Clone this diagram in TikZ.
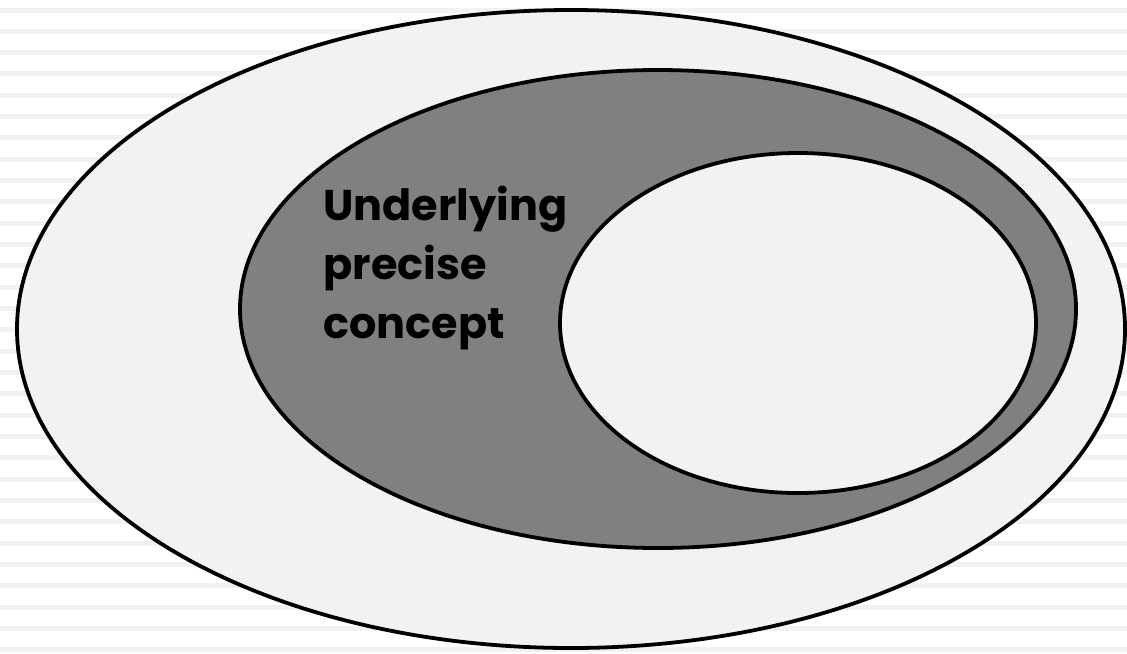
\documentclass[tikz,border=0pt]{standalone}
\usepackage{fontspec}
\newfontfamily\geofont{Poppins}
\usetikzlibrary{shapes.geometric}
\definecolor{stripegray}{HTML}{F2F2F2}
\definecolor{paleset}{HTML}{F2F2F2}
\definecolor{darkset}{HTML}{808080}
\tikzset{
  setshape/.style={ellipse, draw=black, line width=1.9pt, inner sep=0pt},
  stripe/.style={fill=stripegray, draw=none}
}
\begin{document}
\begin{tikzpicture}[x=0.5pt, y=-0.5pt]
\useasboundingbox (0,0) rectangle (1127,653);
\fill[white] (0,0) rectangle (1127,653);
% background stripes
\foreach \k in {0,...,30}
  \fill[stripe] (0,{7.5+21.33*\k}) rectangle (1127,{12.5+21.33*\k});

\node[setshape, fill=paleset, minimum width=554pt, minimum height=319pt] (universe) at (571,329) {};
\node[setshape, fill=darkset, minimum width=418pt, minimum height=239pt] (concept) at (658,309) {};
\node[setshape, fill=paleset, minimum width=238pt, minimum height=170pt] (subset) at (798,323) {};

\node[anchor=north west, inner sep=0pt, align=left,
      font=\geofont\bfseries\fontsize{21.5}{29.5}\selectfont] (label) at (323,186)
  {Underlying\\precise\\concept};
\end{tikzpicture}
\end{document}
